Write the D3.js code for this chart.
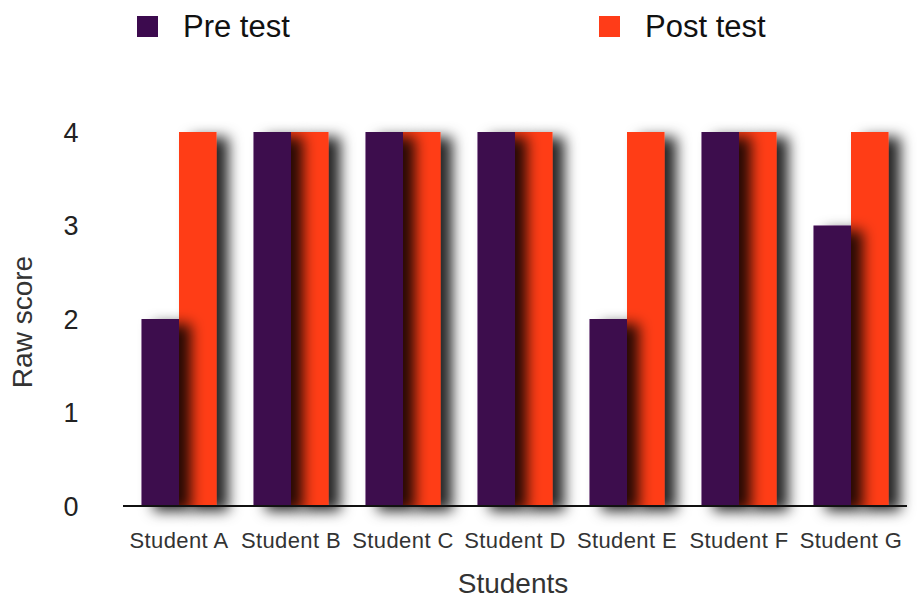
<!DOCTYPE html>
<html>
<head>
<meta charset="utf-8">
<script src="https://cdn.jsdelivr.net/npm/d3@7"></script>
<style>
  html, body { margin: 0; padding: 0; background: #fff; }
  svg { display: block; font-family: "Liberation Sans", Arial, Helvetica, sans-serif; }
</style>
</head>
<body>
<svg id="chart" width="918" height="602"></svg>
<script>
// Scores per student, before and after
const students = ["Student A", "Student B", "Student C", "Student D", "Student E", "Student F", "Student G"];
const preTest  = [2, 4, 4, 4, 2, 4, 3];
const postTest = [4, 4, 4, 4, 4, 4, 4];
const seriesNames = ["Pre test", "Post test"];
const seriesColors = ["#3c0a4e", "#ff3c18"];
const yTicks = [0, 1, 2, 3, 4];

const svg = d3.select("#chart");

const x0 = d3.scaleBand()
  .domain(students)
  .range([123, 907])
  .paddingInner(0.33)
  .paddingOuter(0.165);

const x1 = d3.scaleBand()
  .domain(seriesNames)
  .range([0, x0.bandwidth()]);

const y = d3.scaleLinear().domain([0, 4]).range([506, 132]);

// Soft cast shadow to the right of each bar
const defs = svg.append("defs");
const f = defs.append("filter").attr("id", "barShadow")
  .attr("x", "-30%").attr("y", "-10%").attr("width", "250%").attr("height", "130%");
f.append("feDropShadow")
  .attr("dx", 12).attr("dy", 5).attr("stdDeviation", 7)
  .attr("flood-color", "#000").attr("flood-opacity", 0.85);

const gf = defs.append("filter").attr("id", "lineShadow")
  .attr("x", "-5%").attr("y", "-300%").attr("width", "110%").attr("height", "700%");
gf.append("feDropShadow")
  .attr("dx", 0).attr("dy", 2).attr("stdDeviation", 1.5)
  .attr("flood-color", "#000").attr("flood-opacity", 0.12);

// Horizontal gridlines
svg.append("g")
  .selectAll("line")
  .data(yTicks.filter(d => d > 0))
  .join("line")
  .attr("x1", 123).attr("x2", 907)
  .attr("y1", d => y(d)).attr("y2", d => y(d))
  .attr("stroke", "#c8c8c8")
  .attr("stroke-width", 2)
  .attr("filter", "url(#lineShadow)");

// Bars: post-test drawn first so the pre-test shadow falls across it
const groups = svg.append("g")
  .selectAll("g")
  .data(students.map((s, i) => ({ s, pre: preTest[i], post: postTest[i] })))
  .join("g")
  .attr("transform", d => `translate(${x0(d.s)},0)`);

groups.append("rect")
  .attr("x", x1("Post test"))
  .attr("width", x1.bandwidth())
  .attr("y", d => y(d.post))
  .attr("height", d => y(0) - y(d.post))
  .attr("fill", seriesColors[1])
  .attr("filter", "url(#barShadow)");

groups.append("rect")
  .attr("x", x1("Pre test"))
  .attr("width", x1.bandwidth())
  .attr("y", d => y(d.pre))
  .attr("height", d => y(0) - y(d.pre))
  .attr("fill", seriesColors[0])
  .attr("filter", "url(#barShadow)");

// Baseline
svg.append("line")
  .attr("x1", 123).attr("x2", 907)
  .attr("y1", y(0)).attr("y2", y(0))
  .attr("stroke", "#111").attr("stroke-width", 2);

// Y tick labels
svg.append("g")
  .selectAll("text")
  .data(yTicks)
  .join("text")
  .attr("x", 71)
  .attr("y", d => y(d))
  .attr("dy", "0.36em")
  .attr("text-anchor", "middle")
  .attr("font-size", 27)
  .attr("fill", "#222")
  .text(d => d);

// Category labels
svg.append("g")
  .selectAll("text")
  .data(students)
  .join("text")
  .attr("x", d => x0(d) + x0.bandwidth() / 2)
  .attr("y", 548)
  .attr("text-anchor", "middle")
  .attr("font-size", 22)
  .attr("letter-spacing", 0.4)
  .attr("fill", "#333")
  .text(d => d);

// Axis titles
svg.append("text")
  .attr("x", 513).attr("y", 593)
  .attr("text-anchor", "middle")
  .attr("font-size", 28)
  .attr("fill", "#333")
  .text("Students");

svg.append("text")
  .attr("transform", "translate(32,322) rotate(-90)")
  .attr("text-anchor", "middle")
  .attr("font-size", 28)
  .attr("fill", "#333")
  .text("Raw score");

// Legend
const legendX = [137, 599];
const legend = svg.append("g")
  .selectAll("g")
  .data(seriesNames)
  .join("g")
  .attr("transform", (d, i) => `translate(${legendX[i]},16)`);

legend.append("rect")
  .attr("width", 21).attr("height", 21)
  .attr("fill", (d, i) => seriesColors[i]);

legend.append("text")
  .attr("x", 46).attr("y", 21)
  .attr("font-size", 31)
  .attr("fill", "#111")
  .text(d => d);
</script>
</body>
</html>
